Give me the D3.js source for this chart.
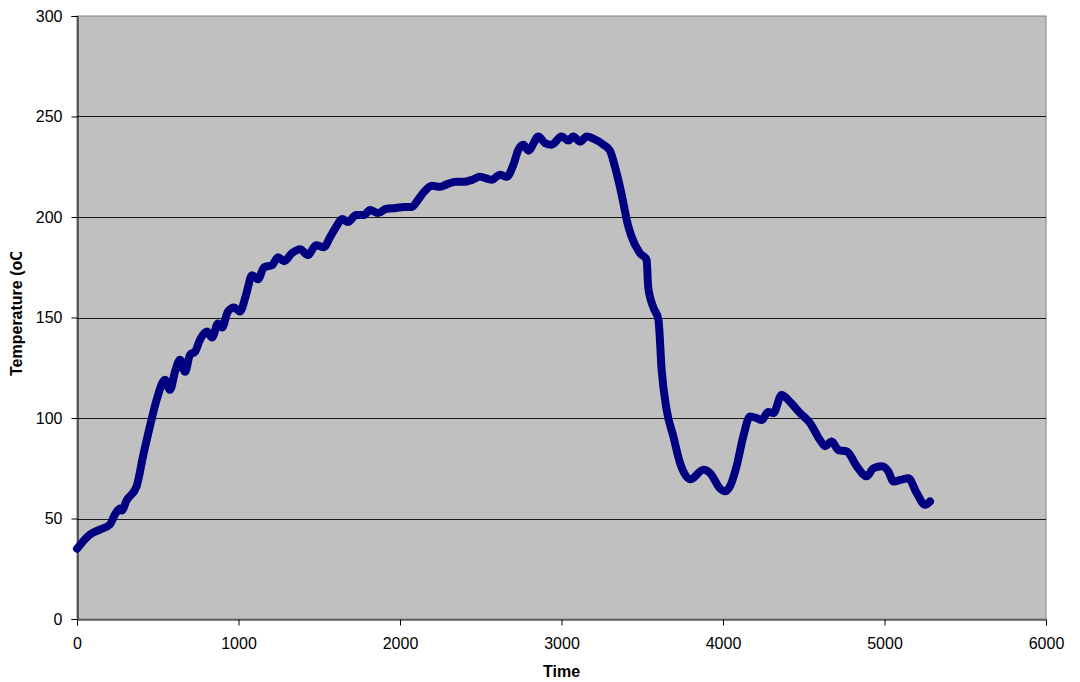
<!DOCTYPE html>
<html>
<head>
<meta charset="utf-8">
<script src="https://cdn.jsdelivr.net/npm/d3@7"></script>
<style>
  body { margin: 0; background: #fff; }
  text { font-family: "Liberation Sans", Arial, sans-serif; }
</style>
</head>
<body>
<div id="chart"></div>
<script>
// readings taken off the original plot
var times = [0, 80, 142, 204, 235, 266, 277, 307, 369, 409, 452, 493, 545, 576, 607, 638, 669, 700, 731, 762,
  805, 836, 873, 898, 935, 972, 1009, 1046, 1084, 1121, 1158, 1207, 1245, 1282, 1331, 1381, 1430, 1480, 1529, 1567,
  1604, 1641, 1678, 1728, 1777, 1814, 1864, 1913, 1975, 2025, 2074, 2111, 2149, 2198, 2248, 2297, 2347, 2396, 2446, 2495,
  2568, 2619, 2661, 2702, 2733, 2764, 2795, 2857, 2898, 2939, 3001, 3042, 3073, 3115, 3156, 3197, 3259, 3300, 3331, 3362,
  3383, 3404, 3430, 3486, 3527, 3537, 3569, 3600, 3620, 3651, 3692, 3734, 3800, 3878, 3920, 3981, 4012, 4043, 4084, 4126,
  4167, 4208, 4239, 4280, 4312, 4363, 4415, 4477, 4539, 4601, 4632, 4673, 4715, 4766, 4828, 4890, 4931, 4983, 5024, 5055,
  5106, 5148, 5199, 5251, 5282];
var temps = [35, 42, 44.5, 47, 52, 55, 54, 59, 66, 81, 96, 109, 119, 114, 123, 129, 123, 131.5, 133, 139,
  143, 140, 147, 145, 153, 155, 153, 161, 171, 169, 175, 176, 180, 178, 182, 184, 181, 186, 185, 190,
  195, 199, 197.5, 201, 201, 203.5, 202, 204, 204.5, 205, 205, 208.5, 212.5, 215.5, 215, 216.5, 217.5, 217.5, 218.5, 220,
  218.5, 221, 220, 226, 233.5, 236, 233, 240, 236.8, 236, 240, 238, 240, 237.5, 240, 239, 236, 233, 225, 215,
  207, 198.5, 191, 182, 178.7, 165, 155, 149, 124, 104, 91, 77.6, 69.5, 74.3, 72.6, 65, 63.5, 66, 76, 91,
  100.8, 100, 99, 103, 102.4, 111.5, 108, 102.5, 97.5, 89, 86, 88.3, 84, 83.4, 76, 71, 75, 76, 73.4, 68.4,
  69.3, 70, 62.7, 56.8, 58.5];
var xTicks = [0, 1000, 2000, 3000, 4000, 5000, 6000];
var yTicks = [0, 50, 100, 150, 200, 250, 300];

var W = 1080, H = 682;
var m = {left: 77, right: 34, top: 16, bottom: 63};

var svg = d3.select("#chart").append("svg")
    .attr("width", W)
    .attr("height", H);

var x = d3.scaleLinear().domain([0, 6000]).range([m.left, W - m.right]);
var y = d3.scaleLinear().domain([0, 300]).range([H - m.bottom, m.top]);

// plot background
svg.append("rect")
    .attr("x", x(0)).attr("y", y(300))
    .attr("width", x(6000) - x(0)).attr("height", y(0) - y(300))
    .attr("fill", "#c0c0c0")
    .attr("stroke", "#808080");

// gridlines
svg.append("g")
  .selectAll("line")
  .data(yTicks.filter(function(d) { return d > 0 && d < 300; }))
  .enter().append("line")
    .attr("x1", x(0)).attr("x2", x(6000))
    .attr("y1", function(d) { return Math.round(y(d)) + 0.5; })
    .attr("y2", function(d) { return Math.round(y(d)) + 0.5; })
    .attr("stroke", "#1a1a1a");

// axes
var yAxis = svg.append("g")
    .attr("transform", "translate(" + (Math.round(x(0)) + 0.5) + ",0)")
    .call(d3.axisLeft(y).tickValues(yTicks).tickSize(6).tickPadding(9));
var xAxis = svg.append("g")
    .attr("transform", "translate(0," + (Math.round(y(0)) + 0.5) + ")")
    .call(d3.axisBottom(x).tickValues(xTicks).tickSize(6).tickPadding(12).tickFormat(d3.format("d")));

[xAxis, yAxis].forEach(function(a) {
  a.attr("font-size", null).attr("font-family", null);
  a.select(".domain").attr("stroke", "#000");
  a.selectAll(".tick line").attr("stroke", "#000");
  a.selectAll(".tick text")
    .attr("fill", "#000")
    .style("font-size", "16px");
});

// the temperature trace
var pts = times.map(function(t, i) { return [t, temps[i]]; });
var line = d3.line()
    .x(function(d) { return x(d[0]); })
    .y(function(d) { return y(d[1]); })
    .curve(d3.curveMonotoneX);

svg.append("path")
    .datum(pts)
    .attr("fill", "none")
    .attr("stroke", "#000080")
    .attr("stroke-width", 8)
    .attr("stroke-linejoin", "round")
    .attr("stroke-linecap", "round")
    .attr("d", line);

// axis titles
svg.append("text")
    .attr("x", (x(0) + x(6000)) / 2)
    .attr("y", 677)
    .attr("text-anchor", "middle")
    .style("font-size", "16px")
    .style("font-weight", "bold")
    .text("Time");

// y title is cut off at the top in the original
svg.append("clipPath").attr("id", "ytclip")
  .append("rect").attr("x", 0).attr("y", 252).attr("width", 40).attr("height", 200);

svg.append("g")
    .attr("clip-path", "url(#ytclip)")
  .append("text")
    .attr("transform", "translate(22,376) rotate(-90)")
    .attr("text-anchor", "start")
    .style("font-size", "16px")
    .style("font-weight", "bold")
    .text("Temperature (oC)");
</script>
</body>
</html>
